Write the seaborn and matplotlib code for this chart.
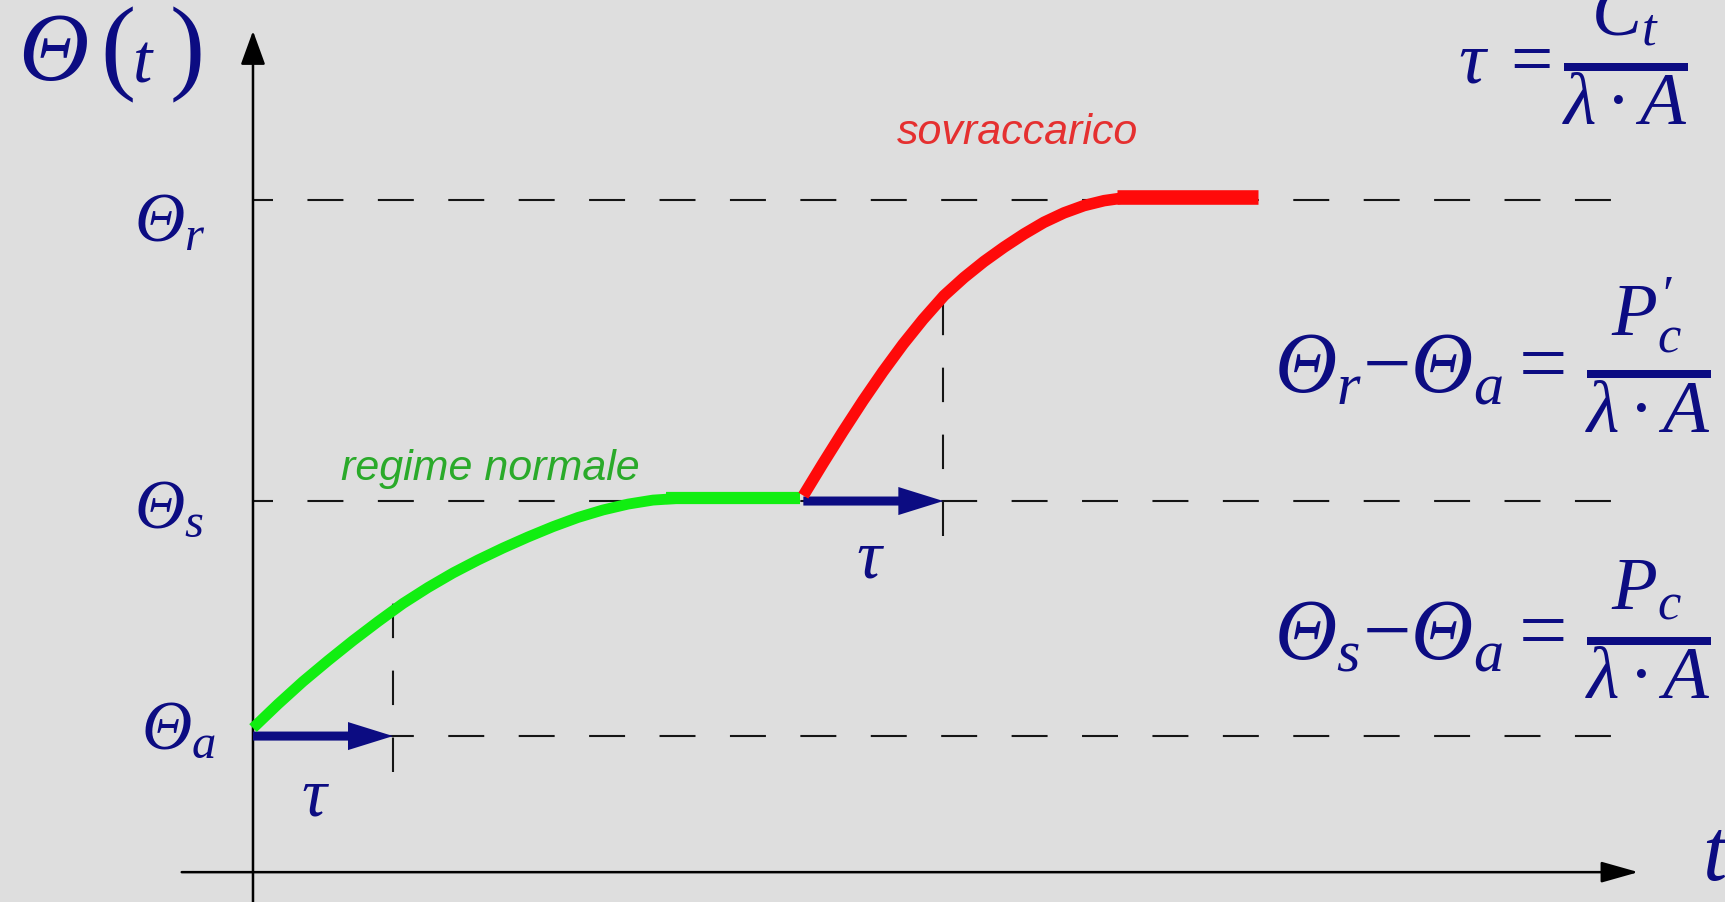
import matplotlib
matplotlib.use("Agg")
import matplotlib.pyplot as plt
from matplotlib.patches import FancyArrowPatch, ArrowStyle
import seaborn as sns
import pandas as pd

# Temperature in relative units (ambient = 0, steady state in normal duty = 1),
# time in units of the thermal time constant tau.
level_names = ["a", "s", "r"]
levels = [0.0, 1.0, 2.28]
tau = 1.0

# heating in normal duty
t_normal = [0.0, 0.179, 0.357, 0.536, 0.714, 0.893, 1.071, 1.25, 1.429,
            1.607, 1.786, 1.964, 2.143, 2.321, 2.5, 2.679, 2.857, 3.036]
theta_normal = [0.034, 0.136, 0.232, 0.321, 0.406, 0.487, 0.564, 0.632, 0.694,
                0.749, 0.8, 0.847, 0.891, 0.93, 0.962, 0.987, 1.004, 1.011]
t_normal_steady = [2.95, 3.91]
theta_normal_steady = [1.012, 1.012]

# heating under overload
t_over = [3.931, 4.071, 4.214, 4.357, 4.5, 4.643, 4.786, 4.936, 5.079,
          5.221, 5.364, 5.507, 5.65, 5.793, 5.936, 6.079, 6.221]
theta_over = [1.023, 1.160, 1.296, 1.427, 1.551, 1.667, 1.773, 1.874, 1.951,
              2.019, 2.080, 2.136, 2.186, 2.226, 2.257, 2.278, 2.290]
t_over_steady = [6.17, 7.18]
theta_over_steady = [2.295, 2.295]

# vertical guides marking one time constant after each step
tau_mark_top = [0.576, 1.86]
tau_mark_bottom = [-0.153, 0.851]

BG = "#dedede"
NAVY = "#0c0c82"
TH = r"\mathsf{\Theta}"  # italic capital theta (sf slot holds the italic serif)

sns.set_theme(style="white", rc={"figure.facecolor": BG, "axes.facecolor": BG})
plt.rcParams["font.family"] = ["Liberation Serif", "DejaVu Sans"]
plt.rcParams["mathtext.fontset"] = "custom"
plt.rcParams["mathtext.rm"] = "Liberation Serif"
plt.rcParams["mathtext.it"] = "Liberation Serif:italic"
plt.rcParams["mathtext.sf"] = "Liberation Serif:italic"
plt.rcParams["mathtext.bf"] = "Liberation Serif:bold"
plt.rcParams["lines.scale_dashes"] = False

fig = plt.figure(figsize=(17.25, 9.03), dpi=100)
ax = fig.add_axes([0, 0, 1, 1])

# dashed temperature levels
t_level_end = 9.7
ax.hlines(levels, 0, t_level_end, colors="#151515", linewidth=1.5,
          linestyles=[(11.5, (25.9, 24.8))], zorder=1)

# vertical tau guides
step_starts = [t_normal[0], t_over[0]]
tau_marks = [s + tau for s in step_starts]
ax.vlines(tau_marks, tau_mark_bottom, tau_mark_top, colors="#151515",
          linewidth=1.5, linestyles=[(0, (24.8, 23.4))], zorder=1)

# coordinate axes with arrow heads
y_axis = FancyArrowPatch((0, -0.75), (0, 3.0),
                         arrowstyle=ArrowStyle("-|>", head_length=20.9, head_width=7.6),
                         mutation_scale=1, color="black", lw=1.8,
                         shrinkA=0, shrinkB=0, zorder=2)
x_axis = FancyArrowPatch((-0.509, -0.579), (9.895, -0.579),
                         arrowstyle=ArrowStyle("-|>", head_length=23, head_width=6.5),
                         mutation_scale=1, color="black", lw=1.8,
                         shrinkA=0, shrinkB=0, zorder=2)
ax.add_patch(y_axis)
ax.add_patch(x_axis)

# tau arrows along the starting level of each step
for t0, lvl in zip(step_starts, [levels[0], levels[1]]):
    arr = FancyArrowPatch((t0, lvl), (t0 + tau, lvl),
                          arrowstyle=ArrowStyle("Simple", head_length=32.4,
                                                head_width=20.2, tail_width=6.5),
                          mutation_scale=1, color=NAVY, lw=0,
                          shrinkA=0, shrinkB=0, zorder=3)
    ax.add_patch(arr)

# heating curves
normal = pd.DataFrame({"t": t_normal, "theta": theta_normal})
over = pd.DataFrame({"t": t_over, "theta": theta_over})
sns.lineplot(data=normal, x="t", y="theta", ax=ax, color="#11ee11", linewidth=7.8,
             sort=False, estimator=None, solid_capstyle="butt",
             solid_joinstyle="round", zorder=4)
sns.lineplot(x=t_normal_steady, y=theta_normal_steady, ax=ax, color="#11ee11",
             linewidth=8.8, sort=False, estimator=None, solid_capstyle="butt", zorder=4)
sns.lineplot(data=over, x="t", y="theta", ax=ax, color="#ff0a0a", linewidth=8.3,
             sort=False, estimator=None, solid_capstyle="butt",
             solid_joinstyle="round", zorder=5)
sns.lineplot(x=t_over_steady, y=theta_over_steady, ax=ax, color="#ff0a0a",
             linewidth=10.5, sort=False, estimator=None, solid_capstyle="butt", zorder=5)

ax.set_xlim(-1.807, 10.514)
ax.set_ylim(-0.706, 3.136)
ax.set_axis_off()

# axis titles
ax.text(-1.679, 2.796, "Θ", fontsize=70, color=NAVY, family="Liberation Serif",
        style="italic", ha="left", va="baseline")
ax.text(-1.093, 2.793, "(", fontsize=76, color=NAVY, family="Liberation Serif",
        ha="left", va="baseline")
ax.text(-0.857, 2.787, "t", fontsize=50, color=NAVY, family="Liberation Serif",
        style="italic", ha="left", va="baseline")
ax.text(-0.593, 2.793, ")", fontsize=76, color=NAVY, family="Liberation Serif",
        ha="left", va="baseline")
ax.text(10.35, -0.609, "t", fontsize=63, color=NAVY, family="Liberation Serif",
        style="italic", ha="left", va="baseline")

# level labels
label_pos = [(-0.80, -0.047), (-0.85, 0.894), (-0.85, 2.111)]
for name, (lx, ly) in zip(level_names, label_pos):
    ax.text(lx, ly, rf"${TH}_{name}$", fontsize=50, color=NAVY,
            ha="left", va="baseline")

# tau labels under the arrows
ax.text(0.45, -0.332, r"$\tau$", fontsize=50, color=NAVY, ha="center", va="baseline")
ax.text(4.414, 0.677, r"$\tau$", fontsize=50, color=NAVY, ha="center", va="baseline")

# regime labels
ax.text(0.629, 1.094, "regime normale", fontsize=31, color="#2aaa2a",
        family="Liberation Sans", style="italic", ha="left", va="baseline")
ax.text(4.596, 2.523, "sovraccarico", fontsize=31, color="#e53030",
        family="Liberation Sans", style="italic", ha="left", va="baseline")

# formulas
ax.text(10.243, 2.783, r"$\tau\;{=}\genfrac{}{}{8}{0}{C_t}{\lambda\,·\,A}$",
        fontsize=54, color=NAVY, ha="right", va="baseline")

frac_over = r"$\genfrac{}{}{8}{0}{P_c^{\prime}}{\lambda\,·\,A}$"
frac_norm = r"$\genfrac{}{}{8}{0}{P_c}{\lambda\,·\,A}$"
ax.text(9.371, 1.468, rf"${TH}_r{{-}}{TH}_a{{=}}$", fontsize=62, color=NAVY,
        ha="right", va="baseline")
ax.text(10.407, 1.472, frac_over, fontsize=54, color=NAVY, ha="right", va="baseline")
ax.text(9.371, 0.328, rf"${TH}_s{{-}}{TH}_a{{=}}$", fontsize=62, color=NAVY,
        ha="right", va="baseline")
ax.text(10.407, 0.340, frac_norm, fontsize=54, color=NAVY, ha="right", va="baseline")

fig.savefig("out.png", dpi=100, facecolor=BG)
